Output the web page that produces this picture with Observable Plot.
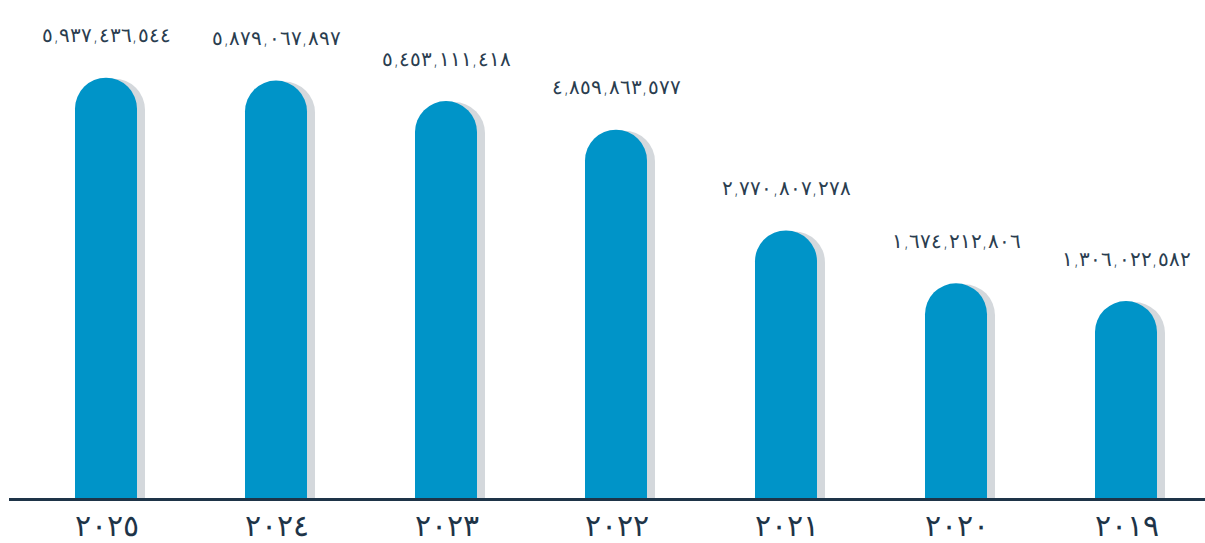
<!DOCTYPE html>
<html>
<head>
<meta charset="utf-8">
<script src="https://cdn.jsdelivr.net/npm/d3@7"></script>
<script src="https://cdn.jsdelivr.net/npm/@observablehq/plot@0.6"></script>
<style>
  html, body { margin: 0; padding: 0; background: #fff; }
  #chart svg { display: block; }
</style>
</head>
<body>
<div id="chart"></div>
<script>
// ---- data ----
const years = ["2025", "2024", "2023", "2022", "2021", "2020", "2019"];
const values = [5937436544, 5879067897, 5453111418, 4859863577, 2770807278, 1674212806, 1306022582];

// ---- helpers ----
const arabicDigits = "٠١٢٣٤٥٦٧٨٩";
const toArabic = s => String(s).replace(/[0-9]/g, d => arabicDigits[+d]);
const fmt = v => toArabic(d3.format(",")(v));

const data = years.map((year, i) => ({year, value: values[i]}));

const yFloor = -2.80e9;   // baseline of the bars (axis line)
const yTop = 7.55e9;
const navy = "#1e3448";
const blue = "#0094c8";
const shadow = "#d4d8dc";

const chart = Plot.plot({
  width: 1205,
  height: 543,
  marginTop: 0,
  marginBottom: 44,
  marginLeft: 9,
  marginRight: 0,
  style: {fontFamily: "DejaVu Sans, sans-serif", background: "#fff"},
  x: {domain: years, paddingInner: 0.635, paddingOuter: 0.335, align: 0.58, axis: null},
  y: {domain: [yFloor, yTop], axis: null},
  marks: [
    Plot.barY(data, {x: "year", y1: yFloor - 1.5e9, y2: "value", fill: shadow, rx: 31, inset: 0, dx: 8, dy: 1, clip: true}),
    Plot.barY(data, {x: "year", y1: yFloor - 1.5e9, y2: "value", fill: blue, rx: 31, inset: 0, clip: true}),
    Plot.ruleY([yFloor], {stroke: navy, strokeWidth: 3}),
    Plot.text(data, {x: "year", y: "value", text: d => fmt(d.value), lineAnchor: "bottom", dy: -36, fontSize: 19.5, fontWeight: 300, fill: "#2a3d4f"}),
    Plot.text(years, {x: d => d, text: d => toArabic(d), frameAnchor: "bottom", lineAnchor: "bottom", dy: 36, fontSize: 30, fontWeight: 300, fill: navy, ariaLabel: "years"})
  ]
});

d3.select(chart).selectAll('g[aria-label="years"] text').attr("letter-spacing", "5px");
document.getElementById("chart").appendChild(chart);
</script>
</body>
</html>
